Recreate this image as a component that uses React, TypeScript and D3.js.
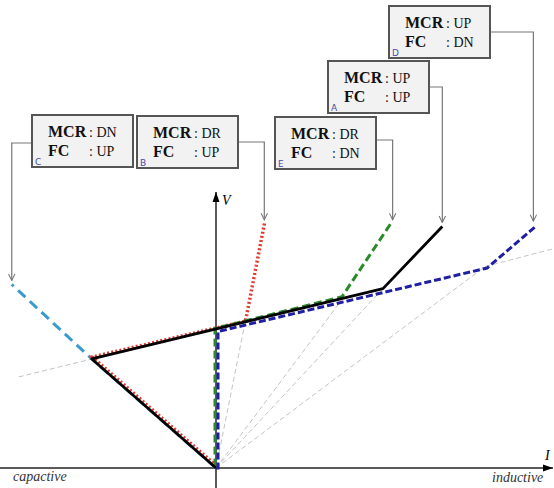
import React from "react";
import * as d3 from "d3";

const W = 554;
const H = 488;

type Pt = [number, number];

// Operating curves in (I, V) per-unit: origin -> knee -> load-line knee -> limit
const curveC: Pt[] = [[0, 0], [-0.9, 0.79], [-1.48, 1.33]];
const curveB: Pt[] = [[0, 0], [-0.9, 0.79], [0.21, 1.05], [0.35, 1.77]];
const curveA: Pt[] = [[0, 0], [-0.9, 0.79], [1.21, 1.3], [1.64, 1.75]];
const curveE: Pt[] = [[0, 0], [0, 1.0], [0.92, 1.23], [1.28, 1.77]];
const curveD: Pt[] = [[0, 0], [0, 1.0], [1.95, 1.46], [2.3, 1.76]];

// Thin grey construction lines
const rayEnds: Pt[] = [[0.21, 1.05], [0.92, 1.23], [1.21, 1.3], [1.95, 1.46]];
const loadLineLeft: Pt[] = [[-1.43, 0.66], [-0.9, 0.79]];
const loadLineRight: Pt[] = [[1.95, 1.46], [2.45, 1.59]];

// Control-mode captions
const caseIds = ["C", "B", "E", "A", "D"];
const mcrModes = ["DN", "DR", "DR", "UP", "UP"];
const fcModes = ["UP", "UP", "DN", "UP", "DN"];
const caseCurves = [curveC, curveB, curveE, curveA, curveD];

// Caption box layout (top-left corner, px) and leader-line elbow y
const boxLayout = [
  { x: 32, y: 115, elbowY: 143, side: "left" },
  { x: 137, y: 116, elbowY: 142, side: "right" },
  { x: 275, y: 117, elbowY: 140, side: "right" },
  { x: 328, y: 61, elbowY: 87, side: "right" },
  { x: 389, y: 6, elbowY: 32, side: "right" },
];
const BOX_W = 101;
const BOX_H = 52;

const xScale = d3.scaleLinear().domain([0, 1]).range([216, 354]);
const yScale = d3.scaleLinear().domain([0, 1]).range([468, 330]);

const line = d3
  .line<Pt>()
  .x((d) => xScale(d[0]))
  .y((d) => yScale(d[1]));

const serif = "'Liberation Serif', 'Times New Roman', serif";

export default function App() {
  const x0 = xScale(0);
  const y0 = yScale(0);

  return (
    <div style={{ position: "fixed", left: 0, top: 0 }}>
      <svg width={W} height={H} style={{ display: "block", background: "#fff" }}>
        <defs>
          <marker id="tipFill" viewBox="0 0 10 10" refX="10" refY="5" markerWidth="10" markerHeight="10" markerUnits="userSpaceOnUse" orient="auto">
            <path d="M0,1.5 L10,5 L0,8.5 Z" fill="#000" />
          </marker>
          <marker id="tipOpen" viewBox="0 0 10 10" refX="9" refY="5" markerWidth="8" markerHeight="8" markerUnits="userSpaceOnUse" orient="auto">
            <path d="M1,1 L9,5 L1,9" fill="none" stroke="#777" strokeWidth="1.3" />
          </marker>
        </defs>

        {/* grey construction lines */}
        <g stroke="#c4c4c4" strokeWidth={1} strokeDasharray="5,3" fill="none">
          {rayEnds.map((p, i) => (
            <path key={i} d={line([[0, 0], p]) || ""} />
          ))}
          <path d={line(loadLineLeft) || ""} />
          <path d={line(loadLineRight) || ""} />
        </g>

        {/* axes */}
        <line x1={0} y1={y0} x2={W - 1} y2={y0} stroke="#5a5a5a" strokeWidth={2} markerEnd="url(#tipFill)" />
        <line x1={x0} y1={H} x2={x0} y2={192} stroke="#000" strokeWidth={1.3} markerEnd="url(#tipFill)" />
        <text x={545} y={460} fontFamily={serif} fontStyle="italic" fontSize={14}>I</text>
        <text x={222} y={205} fontFamily={serif} fontStyle="italic" fontSize={14}>V</text>
        <text x={13} y={481} fontFamily={serif} fontStyle="italic" fontSize={14} fill="#333">capactive</text>
        <text x={492} y={482} fontFamily={serif} fontStyle="italic" fontSize={14} fill="#333">inductive</text>

        {/* operating curves */}
        <path d={line(curveC) || ""} fill="none" stroke="#3a9ad0" strokeWidth={3} strokeDasharray="10,6" />
        <path d={line(curveB) || ""} fill="none" stroke="#e03a30" strokeWidth={3.5} strokeDasharray="2,2.2" transform="translate(0.5,-2)" />
        <path d={line(curveE) || ""} fill="none" stroke="#2a8a2a" strokeWidth={3} strokeDasharray="8,4" transform="translate(-1,-1.5)" />
        <path d={line(curveA) || ""} fill="none" stroke="#000" strokeWidth={2.8} strokeLinejoin="round" />
        <path d={line(curveD) || ""} fill="none" stroke="#1f1fa3" strokeWidth={3} strokeDasharray="7,3" transform="translate(2,1.5)" />

        {/* caption boxes with leader lines */}
        {caseIds.map((id, i) => {
          const b = boxLayout[i];
          const curve = caseCurves[i];
          const end = curve[curve.length - 1];
          const ex = xScale(end[0]);
          const ey = yScale(end[1]) - 4;
          const sx = b.side === "left" ? b.x : b.x + BOX_W;
          return (
            <g key={id}>
              <path
                d={`M${sx},${b.elbowY} H${ex} V${ey}`}
                fill="none"
                stroke="#777"
                strokeWidth={1.2}
                markerEnd="url(#tipOpen)"
              />
              <rect x={b.x} y={b.y} width={BOX_W} height={BOX_H} fill="#f2f2f2" stroke="#555" strokeWidth={2} />
              <text x={b.x + 16} y={b.y + 22} fontFamily={serif} fill="#111">
                <tspan fontWeight="bold" fontSize={16}>MCR</tspan>
                <tspan x={b.x + 57} fontSize={14}>: {mcrModes[i]}</tspan>
              </text>
              <text x={b.x + 16} y={b.y + 41} fontFamily={serif} fill="#111">
                <tspan fontWeight="bold" fontSize={16}>FC</tspan>
                <tspan x={b.x + 57} fontSize={14}>: {fcModes[i]}</tspan>
              </text>
              <text x={b.x + 3} y={b.y + BOX_H - 2} fontFamily="'DejaVu Sans', sans-serif" fontSize={9} fill="#4a4aa8">
                {id}
              </text>
            </g>
          );
        })}
      </svg>
    </div>
  );
}
